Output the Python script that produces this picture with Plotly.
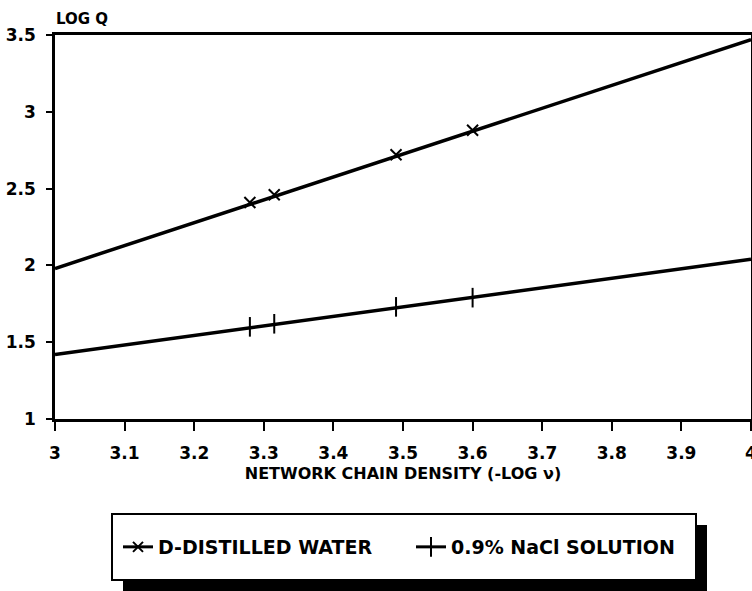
import plotly.graph_objects as go

# measured points
x_pts = [3.28, 3.315, 3.49, 3.60]
water_pts = [2.41, 2.46, 2.72, 2.88]
nacl_pts = [1.60, 1.62, 1.73, 1.79]
# fitted lines across the axis range
x_fit = [3.0, 4.0]
water_fit = [1.98, 3.47]
nacl_fit = [1.42, 2.04]

names = ["D-DISTILLED WATER", "0.9% NaCl SOLUTION"]
x_ticks = [3, 3.1, 3.2, 3.3, 3.4, 3.5, 3.6, 3.7, 3.8, 3.9, 4]
y_ticks = [1, 1.5, 2, 2.5, 3, 3.5]

FONT = "DejaVu Sans"
W, H = 752, 591
L, R, T, B = 55, 1, 35, 172
PW, PH = W - L - R, H - T - B


def px(x):
    return (x - L) / PW


def py(y):
    return (H - B - y) / PH


fig = go.Figure()

fig.add_trace(go.Scatter(x=x_fit, y=water_fit, mode="lines", line=dict(color="black", width=3.5),
                         showlegend=False, hoverinfo="skip"))
fig.add_trace(go.Scatter(x=x_fit, y=nacl_fit, mode="lines", line=dict(color="black", width=3.5),
                         showlegend=False, hoverinfo="skip"))
fig.add_trace(go.Scatter(x=x_pts, y=water_pts, mode="markers", name=names[0],
                         marker=dict(symbol="x-thin", size=11, line=dict(color="black", width=2), color="black"),
                         showlegend=False))
fig.add_trace(go.Scatter(x=x_pts, y=nacl_pts, mode="markers", name=names[1],
                         marker=dict(symbol="line-ns", size=14, line=dict(color="black", width=2), color="black"),
                         showlegend=False))
# legend entries
fig.add_trace(go.Scatter(x=[None], y=[None], mode="lines+markers", name=names[0],
                         line=dict(color="black", width=3),
                         marker=dict(symbol="x-thin", size=10, line=dict(color="black", width=2))))
fig.add_trace(go.Scatter(x=[None], y=[None], mode="lines+markers", name=names[1],
                         line=dict(color="black", width=3),
                         marker=dict(symbol="line-ns", size=14, line=dict(color="black", width=2))))

fig.update_layout(
    width=W, height=H,
    margin=dict(l=L, r=R, t=T, b=B, autoexpand=False),
    paper_bgcolor="white", plot_bgcolor="white",
    font=dict(family=FONT, color="black", size=15, weight="bold"),
    xaxis=dict(range=[3, 4], tickvals=x_ticks, ticktext=[f"{v:g}" for v in x_ticks],
               showline=True, linecolor="black", linewidth=2.5, mirror=True,
               ticks="outside", ticklen=9, tickwidth=2, tickcolor="black",
               showgrid=False, zeroline=False, ticklabeloverflow="allow",
               ticklabelstandoff=8,
               tickfont=dict(family=FONT, size=17, weight="bold"),
               title=dict(text="NETWORK CHAIN DENSITY (-LOG ν)", standoff=6,
                          font=dict(family=FONT, size=16, weight="bold"))),
    yaxis=dict(range=[1, 3.5], tickvals=y_ticks, ticktext=[f"{v:g}" for v in y_ticks],
               showline=True, linecolor="black", linewidth=2.5, mirror=True,
               ticks="outside", ticklen=6, tickwidth=2, tickcolor="black",
               showgrid=False, zeroline=False, ticklabeloverflow="allow",
               ticklabelstandoff=7,
               tickfont=dict(family=FONT, size=17, weight="bold")),
    legend=dict(orientation="h", xref="container", yref="container",
                x=118 / W, xanchor="left", y=(H - 547) / H, yanchor="middle",
                bgcolor="rgba(0,0,0,0)", borderwidth=0,
                font=dict(family=FONT, size=19, weight="bold"),
                entrywidth=248, entrywidthmode="pixels"),
    annotations=[dict(text="LOG Q", xref="paper", yref="paper", x=px(82), y=py(19),
                      xanchor="center", yanchor="middle", showarrow=False,
                      font=dict(family=FONT, size=15, weight="bold"))],
    shapes=[
        dict(type="rect", xref="paper", yref="paper", x0=px(123), x1=px(707), y0=py(595), y1=py(525),
             fillcolor="black", line=dict(width=0), layer="below"),
        dict(type="rect", xref="paper", yref="paper", x0=px(112), x1=px(696), y0=py(580), y1=py(514),
             fillcolor="white", line=dict(color="black", width=2), layer="below"),
    ],
)

fig.write_html("out.html")
